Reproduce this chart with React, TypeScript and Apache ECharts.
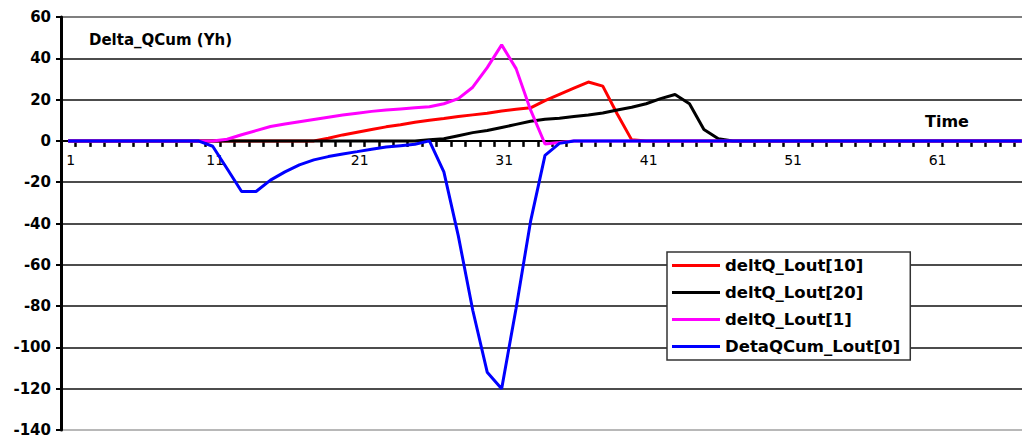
import React, { useEffect, useRef } from "react";
import * as echarts from "echarts";

const categories = [
  "1", "2", "3", "4", "5", "6", "7", "8", "9", "10",
  "11", "12", "13", "14", "15", "16", "17", "18", "19", "20",
  "21", "22", "23", "24", "25", "26", "27", "28", "29", "30",
  "31", "32", "33", "34", "35", "36", "37", "38", "39", "40",
  "41", "42", "43", "44", "45", "46", "47", "48", "49", "50",
  "51", "52", "53", "54", "55", "56", "57", "58", "59", "60",
  "61", "62", "63", "64", "65", "66", "67",
];

const deltQ10 = [
  0, 0, 0, 0, 0, 0, 0, 0, 0, 0,
  0, 0, 0, 0, 0, 0, 0, 0, 1.3, 2.9,
  4.2, 5.5, 6.8, 7.8, 9, 10, 10.8, 11.8, 12.6, 13.4,
  14.5, 15.3, 16, 19.5, 22.5, 25.5, 28.5, 26.5, 13, 0.5,
  0, 0, 0, 0, 0, 0, 0, 0, 0, 0,
  0, 0, 0, 0, 0, 0, 0, 0, 0, 0,
  0, 0, 0, 0, 0, 0, 0,
];

const deltQ20 = [
  0, 0, 0, 0, 0, 0, 0, 0, 0, 0,
  0, 0, 0, 0, 0, 0, 0, 0, 0, 0,
  0, 0, 0, 0, 0, 0.5, 1, 2.5, 4, 5,
  6.5, 8, 9.5, 10.5, 11, 11.8, 12.5, 13.5, 15, 16.3,
  18, 20.5, 22.5, 18, 5.5, 1, 0, 0, 0, 0,
  0, 0, 0, 0, 0, 0, 0, 0, 0, 0,
  0, 0, 0, 0, 0, 0, 0,
];

const deltQ1 = [
  0, 0, 0, 0, 0, 0, 0, 0, 0, 0,
  0, 0.8, 3, 5, 7, 8.2, 9.3, 10.4, 11.5, 12.5,
  13.4, 14.3, 15, 15.5, 16, 16.5, 18, 20.5, 26, 35.5,
  46.5, 35, 15, -1.5, -0.8, 0, 0, 0, 0, 0,
  0, 0, 0, 0, 0, 0, 0, 0, 0, 0,
  0, 0, 0, 0, 0, 0, 0, 0, 0, 0,
  0, 0, 0, 0, 0, 0, 0,
];

const detaQCum0 = [
  0, 0, 0, 0, 0, 0, 0, 0, 0, 0,
  -2.6, -13.5, -24.5, -24.5, -19, -15, -11.6, -9.2, -7.6, -6.3,
  -5.2, -4, -3, -2.3, -1.6, 0, -15, -46, -82, -112,
  -120, -81, -39, -7, -1.2, 0, 0, 0, 0, 0,
  0, 0, 0, 0, 0, 0, 0, 0, 0, 0,
  0, 0, 0, 0, 0, 0, 0, 0, 0, 0,
  0, 0, 0, 0, 0, 0, 0,
];

const seriesNames = ["deltQ_Lout[10]", "deltQ_Lout[20]", "deltQ_Lout[1]", "DetaQCum_Lout[0]"];
const seriesColors = ["#ff0000", "#000000", "#ff00ff", "#0000ff"];
const seriesData = [deltQ10, deltQ20, deltQ1, detaQCum0];

const yMin = -140;
const yMax = 60;
const yStep = 20;

const GRID_TOP = 17;
const GRID_HEIGHT = 413;

export default function App() {
  const ref = useRef<HTMLDivElement>(null);

  useEffect(() => {
    if (!ref.current) return;
    const chart = echarts.init(ref.current, null, { renderer: "svg" });
    const splitColors: string[] = [];
    for (let v = yMin; v <= yMax; v += yStep) {
      if (v === yMin) splitColors.push("#a0a0a0");
      else if (v === yMax) splitColors.push("#555555");
      else splitColors.push("#111111");
    }
    // pixel distance from the bottom of the grid up to the zero line
    const zeroOffset = (GRID_HEIGHT * (0 - yMin)) / (yMax - yMin);
    chart.setOption({
      animation: false,
      backgroundColor: "#ffffff",
      grid: {
        left: 61,
        top: GRID_TOP,
        width: 968,
        height: GRID_HEIGHT,
        containLabel: false,
        outerBoundsMode: "none",
      },
      xAxis: {
        type: "category",
        data: categories,
        boundaryGap: true,
        position: "bottom",
        offset: -zeroOffset,
        axisLine: { show: true, onZero: false, lineStyle: { color: "#000", width: 2 } },
        axisTick: { show: true, interval: 0, length: 6, lineStyle: { color: "#000", width: 2.5 } },
        axisLabel: {
          interval: 9,
          color: "#000",
          fontFamily: "DejaVu Sans",
          fontSize: 14,
          margin: 12,
          padding: [0, 0, 0, 5],
        },
        splitLine: { show: false },
      },
      yAxis: {
        type: "value",
        min: yMin,
        max: yMax,
        interval: yStep,
        axisLine: { show: true, lineStyle: { color: "#000", width: 3 } },
        axisTick: { show: true, length: 5, lineStyle: { color: "#000", width: 2 } },
        axisLabel: {
          color: "#000",
          fontFamily: "DejaVu Sans",
          fontWeight: "bold",
          fontSize: 15,
          margin: 10,
        },
        splitLine: { show: true, lineStyle: { color: splitColors, width: 1.5 } },
      },
      legend: {
        orient: "vertical",
        left: 667,
        top: 252,
        icon: "rect",
        itemWidth: 48,
        itemHeight: 3,
        itemGap: 10,
        padding: [5, 10, 5, 5],
        borderColor: "#333",
        borderWidth: 1.5,
        backgroundColor: "#fff",
        data: seriesNames,
        textStyle: {
          fontFamily: "DejaVu Sans",
          fontWeight: "bold",
          fontSize: 16.5,
          lineHeight: 16,
          color: "#000",
        },
      },
      graphic: [
        {
          type: "text",
          left: 89,
          top: 32,
          style: {
            text: "Delta_QCum (Yh)",
            fontFamily: "DejaVu Sans",
            fontWeight: "bold",
            fontSize: 15,
            fill: "#000",
          },
        },
        {
          type: "text",
          left: 925,
          top: 113,
          style: {
            text: "Time",
            fontFamily: "DejaVu Sans",
            fontWeight: "bold",
            fontSize: 16,
            fill: "#000",
          },
        },
      ],
      series: seriesNames.map((name, i) => ({
        name,
        type: "line",
        data: seriesData[i],
        symbol: "none",
        showSymbol: false,
        lineStyle: { width: 3, color: seriesColors[i] },
        itemStyle: { color: seriesColors[i] },
        z: 2 + i,
      })),
    });
    return () => chart.dispose();
  }, []);

  return (
    <div
      ref={ref}
      style={{ position: "fixed", left: 0, top: 0, width: 1022, height: 438, background: "#fff" }}
    />
  );
}
